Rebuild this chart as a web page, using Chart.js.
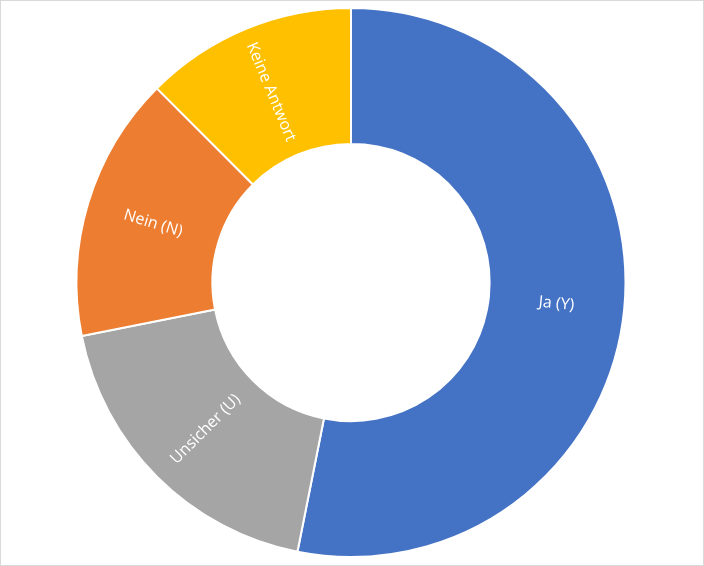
<!DOCTYPE html>
<html>
<head>
<meta charset="utf-8">
<script src="https://cdn.jsdelivr.net/npm/chart.js@4"></script>
<style>
	html, body { margin: 0; padding: 0; background: #fff; }
	#wrap {
		width: 704px;
		height: 566px;
		box-sizing: border-box;
		border: 1px solid #d9d9d9;
	}
	canvas { display: block; }
</style>
</head>
<body>
<div id="wrap"><canvas id="answers_donut" width="702" height="564"></canvas></div>
<script>
const labels = ["Ja (Y)", "Unsicher (U)", "Nein (N)", "Keine Antwort"];
const answers = [17, 6, 5, 4];
const colors = ["#4472C4", "#A5A5A5", "#ED7D31", "#FFC000"];

// labels inside each slice, turned along the radius
const sliceLabels = {
	id: "sliceLabels",
	afterDatasetsDraw(chart) {
		const ctx = chart.ctx;
		const meta = chart.getDatasetMeta(0);
		ctx.save();
		ctx.fillStyle = "#ffffff";
		ctx.font = "16px 'Open Sans'";
		ctx.textAlign = "center";
		ctx.textBaseline = "middle";
		meta.data.forEach((arc, i) => {
			const p = arc.getProps(["x", "y", "startAngle", "endAngle", "innerRadius", "outerRadius"], true);
			const mid = (p.startAngle + p.endAngle) / 2;
			const r = (p.innerRadius + p.outerRadius) / 2;
			let rot = mid;
			if (Math.cos(mid) < 0) rot += Math.PI;
			ctx.save();
			ctx.translate(p.x + Math.cos(mid) * r, p.y + Math.sin(mid) * r);
			ctx.rotate(rot);
			ctx.fillText(chart.data.labels[i], 0, 1);
			ctx.restore();
		});
		ctx.restore();
	}
};

new Chart(document.getElementById("answers_donut"), {
	type: "doughnut",
	data: {
		labels: labels,
		datasets: [{
			data: answers,
			backgroundColor: colors,
			borderColor: "#ffffff",
			borderWidth: 2,
			hoverOffset: 0,
			offset: 0,
		}],
	},
	options: {
		responsive: false,
		animation: false,
		cutout: "50.5%",
		layout: {
			padding: { top: 6, bottom: 7, left: 0, right: 2 }
		},
		plugins: {
			legend: { display: false },
			tooltip: { enabled: false },
		},
	},
	plugins: [sliceLabels],
});
</script>
</body>
</html>
